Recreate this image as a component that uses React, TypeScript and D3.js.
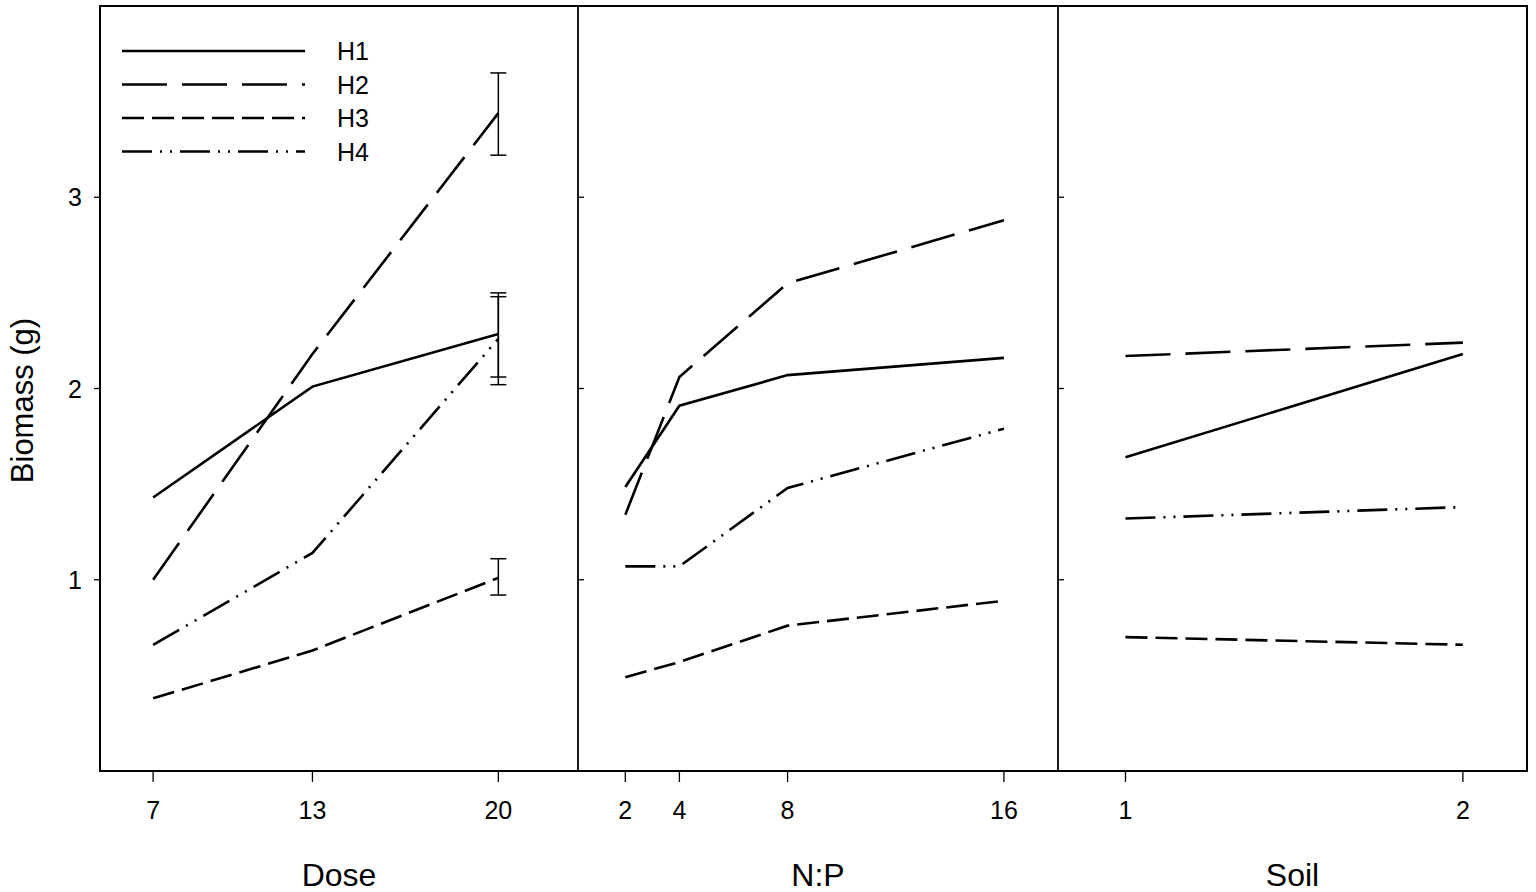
import React from 'react';
import * as d3 from 'd3';

// values
const seriesNames = ['H1', 'H2', 'H3', 'H4'];
const dashes = ['none', '45 15', '22 8', '30 8 2 8 2 8'];

const doseLevels = [7, 13, 20];
const doseH1 = [1.43, 2.01, 2.285];
const doseH2 = [1.0, 2.18, 3.44];
const doseH3 = [0.38, 0.63, 1.01];
const doseH4 = [0.66, 1.14, 2.26];
// error bars at dose 20
const doseErrLow = [2.06, 3.22, 0.92, 2.02];
const doseErrHigh = [2.5, 3.65, 1.11, 2.48];

const npLevels = [2, 4, 8, 16];
const npH1 = [1.485, 1.91, 2.07, 2.16];
const npH2 = [1.34, 2.06, 2.55, 2.88];
const npH3 = [0.49, 0.57, 0.76, 0.89];
const npH4 = [1.07, 1.07, 1.48, 1.79];

const soilLevels = [1, 2];
const soilH1 = [1.64, 2.18];
const soilH2 = [2.17, 2.24];
const soilH3 = [0.7, 0.66];
const soilH4 = [1.32, 1.38];

const yTicks = [1, 2, 3];

const top = 6;
const bottom = 771;
const font = 'Liberation Sans, Arial, sans-serif';

const y = d3.scaleLinear().domain([0, 4]).range([bottom, top]);

const panels = [
  { title: 'Dose', levels: doseLevels, values: [doseH1, doseH2, doseH3, doseH4],
    x: d3.scaleLinear().domain([5, 23]).range([100, 578]) },
  { title: 'N:P', levels: npLevels, values: [npH1, npH2, npH3, npH4],
    x: d3.scaleLinear().domain([0.25, 18]).range([578, 1058]) },
  { title: 'Soil', levels: soilLevels, values: [soilH1, soilH2, soilH3, soilH4],
    x: d3.scaleLinear().domain([0.8, 2.19]).range([1058, 1527]) },
];

const App: React.FC = () => {
  const doseX = panels[0].x;
  return (
    <svg width={1536} height={892} style={{ position: 'absolute', left: 0, top: 0, background: '#fff' }}>
      {panels.map((p, pi) => {
        const [x0, x1] = p.x.range();
        const line = d3.line<number>().x((_, i) => p.x(p.levels[i])).y((d) => y(d));
        return (
          <g key={p.title}>
            {p.values.map((vals, si) => (
              <path key={si} d={line(vals) || ''} fill="none" stroke="#000" strokeWidth={2.6}
                strokeDasharray={dashes[si]} />
            ))}
            {/* x ticks */}
            {p.levels.map((l) => (
              <g key={l}>
                <line x1={p.x(l)} x2={p.x(l)} y1={bottom} y2={bottom + 11} stroke="#000" strokeWidth={1.3} />
                <text x={p.x(l)} y={819} textAnchor="middle" fontFamily={font} fontSize={25}>{l}</text>
              </g>
            ))}
            <text x={(x0 + x1) / 2} y={886} textAnchor="middle" fontFamily={font} fontSize={32}>{p.title}</text>
            {/* inner y ticks on the panel divider */}
            {pi > 0 && yTicks.map((t) => (
              <line key={t} x1={x0} x2={x0 + 6} y1={y(t)} y2={y(t)} stroke="#000" strokeWidth={1.3} />
            ))}
            {pi > 0 && <line x1={x0} x2={x0} y1={top} y2={bottom} stroke="#000" strokeWidth={1.8} />}
          </g>
        );
      })}

      {/* error bars at the highest dose */}
      {seriesNames.map((s, si) => {
        const cx = doseX(doseLevels[2]);
        return (
          <g key={s} stroke="#000" strokeWidth={1.5}>
            <line x1={cx} x2={cx} y1={y(doseErrLow[si])} y2={y(doseErrHigh[si])} />
            <line x1={cx - 8} x2={cx + 8} y1={y(doseErrLow[si])} y2={y(doseErrLow[si])} />
            <line x1={cx - 8} x2={cx + 8} y1={y(doseErrHigh[si])} y2={y(doseErrHigh[si])} />
          </g>
        );
      })}

      {/* frame */}
      <rect x={100} y={top} width={1427} height={bottom - top} fill="none" stroke="#000" strokeWidth={2} />

      {/* y axis */}
      {yTicks.map((t) => (
        <g key={t}>
          <line x1={94} x2={100} y1={y(t)} y2={y(t)} stroke="#000" strokeWidth={1.3} />
          <text x={82} y={y(t) + 9} textAnchor="end" fontFamily={font} fontSize={25}>{t}</text>
        </g>
      ))}
      <text transform={`translate(33,${(top + bottom) / 2 + 12}) rotate(-90)`} textAnchor="middle"
        fontFamily={font} fontSize={31}>Biomass (g)</text>

      {/* legend */}
      {seriesNames.map((s, si) => (
        <g key={s}>
          <line x1={122} x2={305} y1={51 + si * 33.5} y2={51 + si * 33.5} stroke="#000" strokeWidth={2.6}
            strokeDasharray={dashes[si]} />
          <text x={337} y={60 + si * 33.5} fontFamily={font} fontSize={25}>{s}</text>
        </g>
      ))}
    </svg>
  );
};

export default App;
